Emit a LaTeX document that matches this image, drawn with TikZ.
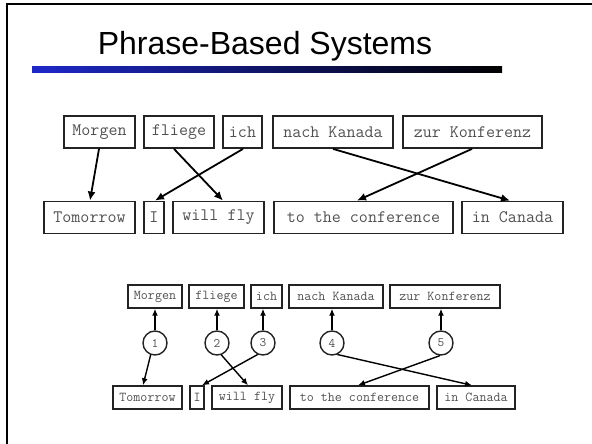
\documentclass[tikz,border=0pt]{standalone}
\usepackage{fontspec}
\setmainfont{Liberation Sans}
\usetikzlibrary{arrows.meta,shadings}

\definecolor{wordgray}{RGB}{80,80,80}
\definecolor{boxline}{RGB}{35,35,35}
\definecolor{ruleblue}{RGB}{30,40,200}

\tikzset{
  bigword/.style={draw=boxline, line width=1.8pt, inner sep=0pt,
    minimum height=32pt, text=wordgray,
    font=\ttfamily\fontsize{17.5}{20}\selectfont},
  smallword/.style={draw=boxline, line width=1.4pt, inner sep=0pt,
    minimum height=23pt, text=wordgray,
    font=\ttfamily\fontsize{13.6}{16}\selectfont},
  num/.style={circle, draw=boxline, line width=1.4pt, inner sep=0pt,
    minimum size=24pt, text=wordgray,
    font=\ttfamily\fontsize{13}{15}\selectfont},
  bigarrow/.style={line width=1.8pt, draw=black,
    -{Latex[length=9pt,width=8pt]}},
  smallarrow/.style={line width=1.4pt, draw=black,
    -{Latex[length=7pt,width=6pt]}},
}

\begin{document}
\begin{tikzpicture}[x=1pt,y=-1pt]
\useasboundingbox (0,0) rectangle (592,444);

% slide frame and title
\draw[line width=2.5pt, black] (592,4) -- (7,4) -- (7,444);
\node[anchor=base, font=\fontsize{32}{38}\selectfont] (title) at (265,55) {Phrase-Based Systems};
\shade[left color=ruleblue, right color=black] (32,67) rectangle (502,72.5);

% upper figure: phrase boxes
\node[bigword, minimum width=71pt]  (m)  at (99.5,132)  {Morgen};
\node[bigword, minimum width=70pt]  (f)  at (179,132)   {fliege};
\node[bigword, minimum width=39pt]  (i)  at (242.5,132) {ich};
\node[bigword, minimum width=120pt] (nk) at (333,132)   {nach Kanada};
\node[bigword, minimum width=139pt] (zk) at (472.5,132) {zur Konferenz};

\node[bigword, minimum width=91pt]  (tm) at (89.5,217.5)  {Tomorrow};
\node[bigword, minimum width=20pt]  (ii) at (154,217.5)   {I};
\node[bigword, minimum width=91pt]  (wf) at (218.5,217.5) {will fly};
\node[bigword, minimum width=179pt] (tc) at (363.5,217.5) {to the conference};
\node[bigword, minimum width=101pt] (ic) at (512.5,217.5) {in Canada};

\draw[bigarrow] ([xshift=-0.5pt]m.south)  -- ([xshift=0.5pt]tm.north);
\draw[bigarrow] ([xshift=-5pt]f.south)    -- ([xshift=4.5pt]wf.north);
\draw[bigarrow] ([xshift=0.5pt]i.south)   -- ([xshift=1pt]ii.north);
\draw[bigarrow] (nk.south)                -- ([xshift=-2.5pt]ic.north);
\draw[bigarrow] ([xshift=-0.5pt]zk.south) -- ([xshift=-6.5pt]tc.north);

% lower figure: phrase boxes with numbered alignments
\node[smallword, minimum width=54pt]  (m2)  at (155,296.5)   {Morgen};
\node[smallword, minimum width=55pt]  (f2)  at (216.5,296.5) {fliege};
\node[smallword, minimum width=31pt]  (i2)  at (266.5,296.5) {ich};
\node[smallword, minimum width=94pt]  (nk2) at (336,296.5)   {nach Kanada};
\node[smallword, minimum width=110pt] (zk2) at (445,296.5)   {zur Konferenz};

\node[smallword, minimum width=69pt]  (tm2) at (147.5,397.5) {Tomorrow};
\node[smallword, minimum width=14pt]  (ii2) at (197,397.5)   {I};
\node[smallword, minimum width=70pt]  (wf2) at (247,397.5)   {will fly};
\node[smallword, minimum width=139pt] (tc2) at (359.5,397.5) {to the conference};
\node[smallword, minimum width=78pt]  (ic2) at (476,397.5)   {in Canada};

\node[num] (c1) at (155,343) {1};
\node[num] (c2) at (217,343) {2};
\node[num] (c3) at (263,343) {3};
\node[num] (c4) at (332,343) {4};
\node[num] (c5) at (441,343) {5};

\draw[smallarrow] (c1.north) -- (c1.north |- m2.south);
\draw[smallarrow] (c2.north) -- (c2.north |- f2.south);
\draw[smallarrow] (c3.north) -- (c3.north |- i2.south);
\draw[smallarrow] (c4.north) -- (c4.north |- nk2.south);
\draw[smallarrow] (c5.north) -- (c5.north |- zk2.south);

\draw[smallarrow] (c1.250) -- ([xshift=-4.5pt]tm2.north);
\draw[smallarrow] (c2.290) -- ([xshift=1pt]wf2.north);
\draw[smallarrow] (c3.245) -- ([xshift=5pt]ii2.north);
\draw[smallarrow] (c4.295) -- ([xshift=-4pt]ic2.north);
\draw[smallarrow] (c5.265) -- ([xshift=-1.5pt]tc2.north);
\end{tikzpicture}
\end{document}
